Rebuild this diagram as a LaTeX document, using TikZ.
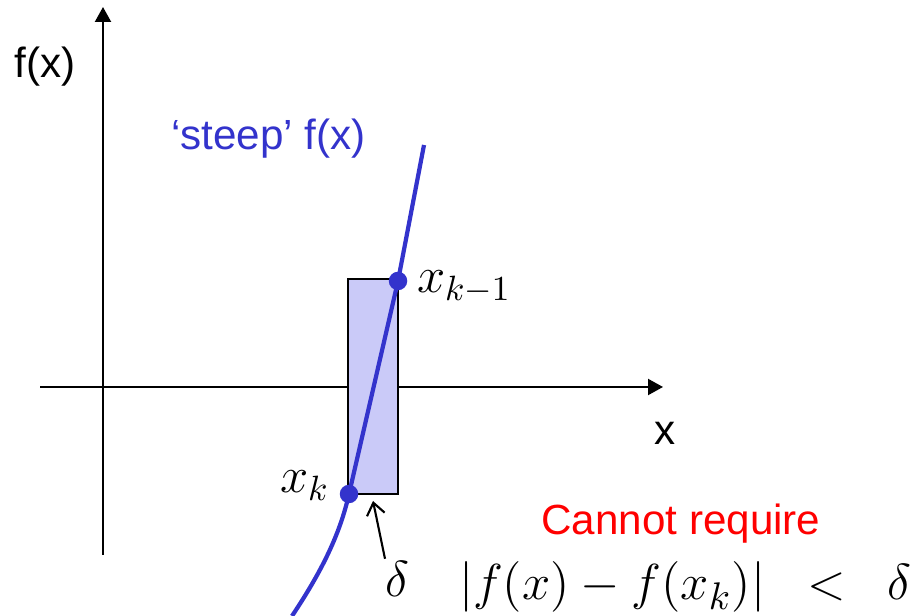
\documentclass[tikz,border=0pt]{standalone}
\usepackage{fontspec}
\setsansfont{Liberation Sans}
\usetikzlibrary{arrows.meta, positioning, calc}
\definecolor{cblue}{HTML}{3333CC}
\definecolor{cband}{HTML}{CACAF8}
\definecolor{cred}{HTML}{FF0000}
\tikzset{
  every picture/.style={line width=0.6pt},
  axis/.style={-{Triangle[length=1.5mm, width=1.6mm]}, draw=black},
  curve/.style={draw=cblue, line width=1.2pt},
  dot/.style={circle, fill=cblue, inner sep=0pt, minimum size=1.85mm},
  band/.style={draw=black, fill=cband},
  txt/.style={font=\sffamily\fontsize{12}{14}\selectfont, inner sep=0pt},
  mtxt/.style={font=\fontsize{14}{17}\selectfont, inner sep=0pt},
  pointer/.style={-{Straight Barb[length=1.2mm, width=1.8mm]}, line width=0.6pt},
}
\begin{document}
\begin{tikzpicture}
  \useasboundingbox (0,0) rectangle (9.24,-6.16);
  % axes
  \coordinate (ybot) at (1.03,-5.55);
  \coordinate (ytop) at (1.03,-0.07);
  \coordinate (xleft) at (0.40,-3.87);
  \coordinate (xright) at (6.63,-3.87);
  \draw[axis] (ybot) -- (ytop);
  \draw[axis] (xleft) -- (xright);
  \node[txt, anchor=base] (ylab) at (0.45,-0.78) {f(x)};
  \node[txt, anchor=base] (xlab) at (6.65,-4.45) {x};
  % interval around the root
  \coordinate (xk) at (3.49,-4.94);
  \coordinate (xkm) at (3.98,-2.81);
  \draw[band] (3.48,-2.79) rectangle (3.98,-4.94);
  % steep function
  \coordinate (cbot) at (2.92,-6.16);
  \coordinate (ctop) at (4.24,-1.45);
  \draw[curve] (cbot) .. controls +(0.3,0.45) and +(-0.09,-0.4) .. (xk) -- (xkm) -- (ctop);
  \node[dot] (pk) at (xk) {};
  \node[dot] (pkm) at (xkm) {};
  \node[mtxt, font=\fontsize{14.5}{17}\selectfont, anchor=base west] (lkm) at (4.16,-2.93) {$x_{k-1}$};
  \node[mtxt, font=\fontsize{14.5}{17}\selectfont, anchor=base west] (lk) at (2.79,-4.93) {$x_k$};
  \node[txt, text=cblue, anchor=base west] (steep) at (1.70,-1.50) {‘steep’ f(x)};
  % width of the interval
  \node[mtxt, anchor=base west] (delta) at (3.84,-5.97) {$\delta$};
  \coordinate (dtip) at (3.73,-5.01);
  \draw[pointer] ([xshift=0.1mm, yshift=0.2mm]delta.north west) -- (dtip);
  % stopping condition
  \node[txt, text=cred, anchor=base] (cannot) at (6.81,-5.35) {Cannot require};
  \node[mtxt, font=\fontsize{15.5}{18}\selectfont, anchor=base west] (cond) at (4.58,-6.00) {$|f(x)-f(x_k)|\;\;<\;\;\delta$};
\end{tikzpicture}
\end{document}
